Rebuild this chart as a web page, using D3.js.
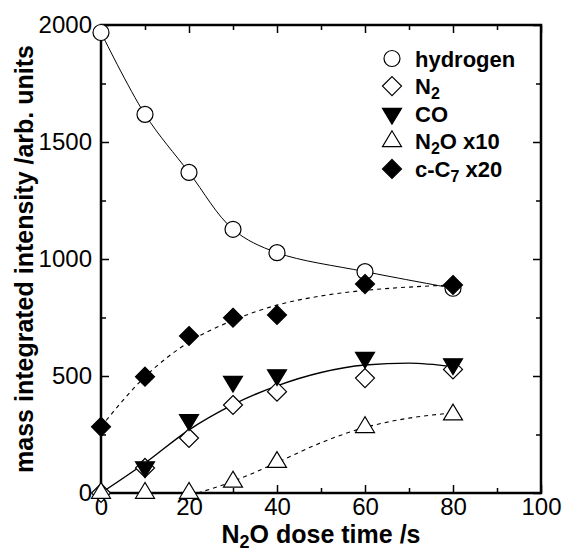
<!DOCTYPE html>
<html>
<head>
<meta charset="utf-8">
<script src="https://cdn.jsdelivr.net/npm/d3@7"></script>
<style>
  body { margin: 0; background: #fff; }
  svg { display: block; font-family: "Liberation Sans", Arial, sans-serif; }
</style>
</head>
<body>
<div id="chart"></div>
<script>
// measured values
const times = [0, 10, 20, 30, 40, 60, 80];
const hydrogen = [1968, 1618, 1370, 1127, 1027, 946, 875];
const n2 = [0, 107, 235, 376, 433, 491, 528];
const coTimes = [10, 20, 30, 40, 60, 80];
const co = [111, 312, 476, 504, 578, 551];
const n2o = [0, 0, 0, 48, 132, 281, 335];
const cc7 = [283, 497, 671, 749, 761, 893, 889];

// fit curves
const fitTimes = [0, 10, 20, 30, 40, 50, 60, 70, 80];
const fitN2CO = [0, 128, 270, 378, 458, 515, 547, 555, 540];
const fitCC7 = [283, 497, 645, 738, 803, 842, 866, 880, 889];
const fitN2OTimes = [22, 30, 40, 50, 60, 70, 80];
const fitN2O = [0, 50, 130, 215, 280, 320, 342];

const xTicks = [0, 20, 40, 60, 80, 100];
const xMinor = [10, 30, 50, 70, 90];
const yTicks = [0, 500, 1000, 1500, 2000];
const yMinor = [250, 750, 1250, 1750];

const width = 564, height = 554;
const margin = { left: 101, right: 23, top: 25, bottom: 61 };

const svg = d3.select("#chart").append("svg")
  .attr("width", width)
  .attr("height", height);

const x = d3.scaleLinear().domain([0, 100]).range([margin.left, width - margin.right]);
const y = d3.scaleLinear().domain([0, 2000]).range([height - margin.bottom, margin.top]);

const zip = (xs, ys) => xs.map((t, i) => [t, ys[i]]);

// axes, ticks pointing inside
const axisG = svg.append("g");
axisG.append("g").attr("transform", `translate(0,${y(0)})`)
  .call(d3.axisBottom(x).tickValues(xTicks).tickSize(-8).tickPadding(5).tickFormat(d3.format("d")));
axisG.append("g").attr("transform", `translate(0,${y(0)})`)
  .call(d3.axisBottom(x).tickValues(xMinor).tickSize(-5).tickFormat(""));
axisG.append("g").attr("transform", `translate(${x(0)},0)`)
  .call(d3.axisLeft(y).tickValues(yTicks).tickSize(-8).tickPadding(9).tickFormat(d3.format("d")));
axisG.append("g").attr("transform", `translate(${x(0)},0)`)
  .call(d3.axisLeft(y).tickValues(yMinor).tickSize(-5).tickFormat(""));
axisG.append("g").attr("transform", `translate(0,${y(2000)})`)
  .call(d3.axisTop(x).tickValues(xTicks).tickSize(-8).tickFormat(""));
axisG.append("g").attr("transform", `translate(0,${y(2000)})`)
  .call(d3.axisTop(x).tickValues(xMinor).tickSize(-5).tickFormat(""));
axisG.append("g").attr("transform", `translate(${x(100)},0)`)
  .call(d3.axisRight(y).tickValues(yTicks).tickSize(-8).tickFormat(""));
axisG.append("g").attr("transform", `translate(${x(100)},0)`)
  .call(d3.axisRight(y).tickValues(yMinor).tickSize(-5).tickFormat(""));

axisG.selectAll(".domain").remove();
axisG.selectAll(".tick line").attr("stroke", "#000").attr("stroke-width", 1.5);
axisG.selectAll(".tick text")
  .attr("font-family", "Liberation Sans, Arial, sans-serif")
  .attr("font-size", 24)
  .attr("fill", "#000");

svg.append("rect")
  .attr("x", x(0)).attr("y", y(2000))
  .attr("width", x(100) - x(0)).attr("height", y(0) - y(2000))
  .attr("fill", "none").attr("stroke", "#000").attr("stroke-width", 2.5);

// lines
const line = d3.line().x(d => x(d[0])).y(d => y(d[1]));

svg.append("path")
  .datum(zip(times, hydrogen))
  .attr("d", line.curve(d3.curveCatmullRom))
  .attr("fill", "none").attr("stroke", "#000").attr("stroke-width", 1);

svg.append("path")
  .datum(zip(fitTimes, fitN2CO))
  .attr("d", line.curve(d3.curveMonotoneX))
  .attr("fill", "none").attr("stroke", "#000").attr("stroke-width", 1.4);

svg.append("path")
  .datum(zip(fitTimes, fitCC7))
  .attr("d", line.curve(d3.curveMonotoneX))
  .attr("fill", "none").attr("stroke", "#000").attr("stroke-width", 1.1)
  .attr("stroke-dasharray", "4,4");

svg.append("path")
  .datum(zip(fitN2OTimes, fitN2O))
  .attr("d", line.curve(d3.curveMonotoneX))
  .attr("fill", "none").attr("stroke", "#000").attr("stroke-width", 1.1)
  .attr("stroke-dasharray", "4,4");

// marker shapes
const shapes = {
  circle: "M8,0A8,8 0 1,1 -8,0A8,8 0 1,1 8,0Z",
  diamond: "M0,-9.5L9.5,0L0,9.5L-9.5,0Z",
  down: "M0,10.5L-9.5,-5.3L9.5,-5.3Z",
  up: "M0,-10.5L-9.5,5.3L9.5,5.3Z"
};

const series = [
  { name: "hydrogen", xs: times, ys: hydrogen, shape: "circle", fill: "#fff" },
  { name: "N2", xs: times, ys: n2, shape: "diamond", fill: "#fff" },
  { name: "CO", xs: coTimes, ys: co, shape: "down", fill: "#000" },
  { name: "N2O", xs: times, ys: n2o, shape: "up", fill: "#fff" },
  { name: "cC7", xs: times, ys: cc7, shape: "diamond", fill: "#000" }
];

series.forEach(s => {
  svg.append("g").selectAll("path")
    .data(zip(s.xs, s.ys))
    .join("path")
    .attr("transform", d => `translate(${x(d[0])},${y(d[1])})`)
    .attr("d", shapes[s.shape])
    .attr("fill", s.fill)
    .attr("stroke", "#000")
    .attr("stroke-width", 1.2);
});

// legend
const legendRows = [
  { shape: "circle", fill: "#fff", parts: [["hydrogen", false]] },
  { shape: "diamond", fill: "#fff", parts: [["N", false], ["2", true]] },
  { shape: "down", fill: "#000", parts: [["CO", false]] },
  { shape: "up", fill: "#fff", parts: [["N", false], ["2", true], ["O x10", false]] },
  { shape: "diamond", fill: "#000", parts: [["c-C", false], ["7", true], [" x20", false]] }
];

// writes text pieces into a <text>, subscripts shifted down
function addParts(t, parts, big, small, shift) {
  let down = false;
  parts.forEach(p => {
    const sub = p[1];
    let dy = 0;
    if (sub && !down) dy = shift;
    if (!sub && down) dy = -shift;
    down = sub;
    t.append("tspan")
      .attr("font-size", sub ? small : big)
      .attr("dy", dy)
      .text(p[0]);
  });
}

const legend = svg.append("g");
legendRows.forEach((r, i) => {
  const base = 66.5 + i * 27.6;
  legend.append("path")
    .attr("transform", `translate(392,${base - 8})`)
    .attr("d", shapes[r.shape])
    .attr("fill", r.fill).attr("stroke", "#000").attr("stroke-width", 1.2);
  const t = legend.append("text")
    .attr("x", 415).attr("y", base)
    .attr("font-size", 22).attr("font-weight", "bold");
  addParts(t, r.parts, 22, 16, 5);
});

// axis titles
const xt = svg.append("text")
  .attr("x", (x(0) + x(100)) / 2).attr("y", 543)
  .attr("text-anchor", "middle")
  .attr("font-size", 25).attr("font-weight", "bold");
addParts(xt, [["N", false], ["2", true], ["O dose time /s", false]], 25, 18, 5);

svg.append("text")
  .attr("transform", `translate(33,${(y(0) + y(2000)) / 2}) rotate(-90)`)
  .attr("text-anchor", "middle")
  .attr("font-size", 25).attr("font-weight", "bold")
  .text("mass integrated intensity /arb. units");
</script>
</body>
</html>
